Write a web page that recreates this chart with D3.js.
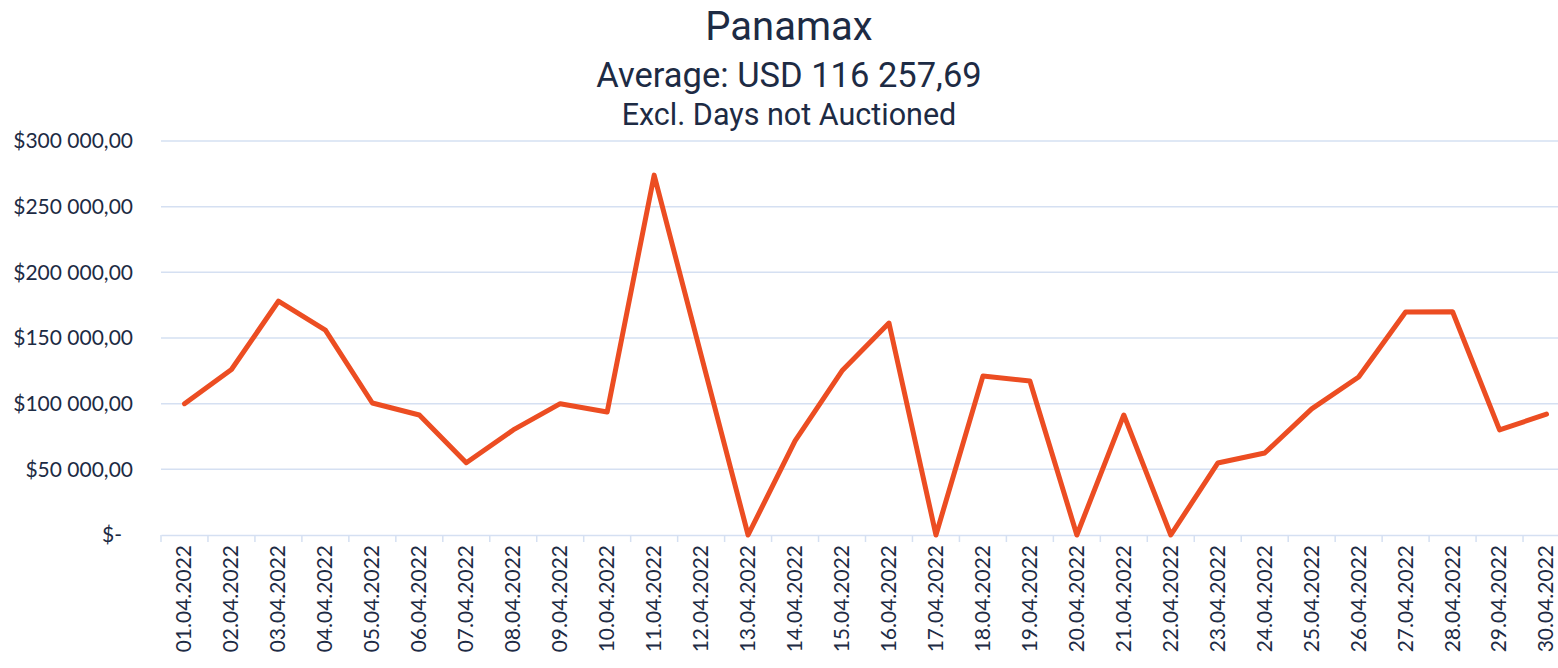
<!DOCTYPE html>
<html>
<head>
<meta charset="utf-8">
<script src="https://cdn.jsdelivr.net/npm/d3@7"></script>
<style>
  body { margin: 0; background: #fff; }
  svg { display: block; }
</style>
</head>
<body>
<svg id="chart" width="1558" height="668"></svg>
<script>
const days = [
  "01.04.2022","02.04.2022","03.04.2022","04.04.2022","05.04.2022","06.04.2022",
  "07.04.2022","08.04.2022","09.04.2022","10.04.2022","11.04.2022","12.04.2022",
  "13.04.2022","14.04.2022","15.04.2022","16.04.2022","17.04.2022","18.04.2022",
  "19.04.2022","20.04.2022","21.04.2022","22.04.2022","23.04.2022","24.04.2022",
  "25.04.2022","26.04.2022","27.04.2022","28.04.2022","29.04.2022","30.04.2022"
];
const prices = [
  100000, 126000, 178000, 156000, 100500, 91400,
  55000, 80000, 100000, 93700, 274000, 137000,
  0, 71600, 125000, 161400, 0, 121000,
  117300, 0, 91400, 0, 54800, 62400,
  96000, 120300, 169800, 170000, 80000, 92000
];
const yTicks = [0, 50000, 100000, 150000, 200000, 250000, 300000];
const titleLines = ["Panamax", "Average: USD 116 257,69", "Excl. Days not Auctioned"];

const svg = d3.select("#chart");
// the plot runs a little past the right edge, like the original export
const plotLeft = 161, plotRight = 1570, plotTop = 141, plotBottom = 535;
const textColor = "#1d2b44";
const gridColor = "#d5e0f2";

const x = d3.scaleBand().domain(days).range([plotLeft, plotRight]);
const y = d3.scaleLinear().domain([0, 300000]).range([plotBottom, plotTop]);

// money label like "$100 000,00"
const fmt = v => v === 0 ? "$-" : "$" + d3.format(",.2f")(v).replace(/,/g, " ").replace(".", ",");

// title
const titleSizes = [40, 34.5, 30.5];
const titleY = [40, 87, 125];
titleLines.forEach((t, i) => {
  svg.append("text")
    .attr("x", 789)
    .attr("y", titleY[i])
    .attr("text-anchor", "middle")
    .style("font-family", "Roboto, 'Open Sans', sans-serif")
    .style("font-size", titleSizes[i] + "px")
    .attr("fill", textColor)
    .text(t);
});

// gridlines
svg.append("g")
  .selectAll("line")
  .data(yTicks.filter(d => d > 0))
  .enter().append("line")
  .attr("x1", plotLeft).attr("x2", plotRight)
  .attr("y1", d => y(d)).attr("y2", d => y(d))
  .attr("stroke", gridColor)
  .attr("stroke-width", 1.5);

// y labels
svg.append("g")
  .selectAll("text")
  .data(yTicks)
  .enter().append("text")
  .attr("x", d => d === 0 ? 122 : 133)
  .attr("y", d => y(d))
  .attr("dy", "0.35em")
  .attr("text-anchor", "end")
  .style("font-family", "Lato, 'Open Sans', sans-serif")
  .style("font-size", "21px")
  .attr("fill", textColor)
  .text(fmt);

// x axis
const xAxis = svg.append("g")
  .attr("transform", `translate(0,${plotBottom})`)
  .call(d3.axisBottom(x).tickSize(0).tickFormat(""));
xAxis.select(".domain").attr("stroke", gridColor).attr("stroke-width", 1.5);

const tickPos = days.map(d => x(d)).concat([plotRight]);
xAxis.selectAll(".sep")
  .data(tickPos)
  .enter().append("line")
  .attr("class", "sep")
  .attr("x1", d => d).attr("x2", d => d)
  .attr("y1", 0).attr("y2", 7)
  .attr("stroke", gridColor)
  .attr("stroke-width", 1.5);

xAxis.selectAll(".lbl")
  .data(days)
  .enter().append("text")
  .attr("class", "lbl")
  .attr("transform", d => `translate(${x(d) + x.bandwidth() / 2},${10}) rotate(-90)`)
  .attr("dy", "0.33em")
  .attr("text-anchor", "end")
  .style("font-family", "Lato, 'Open Sans', sans-serif")
  .style("font-size", "21px")
  .attr("fill", textColor)
  .text(d => d);

// line
const line = d3.line()
  .x((d, i) => x(days[i]) + x.bandwidth() / 2)
  .y(d => y(d));

svg.append("path")
  .datum(prices)
  .attr("d", line)
  .attr("fill", "none")
  .attr("stroke", "#ec4d22")
  .attr("stroke-width", 5)
  .attr("stroke-linejoin", "round")
  .attr("stroke-linecap", "round");
</script>
</body>
</html>
